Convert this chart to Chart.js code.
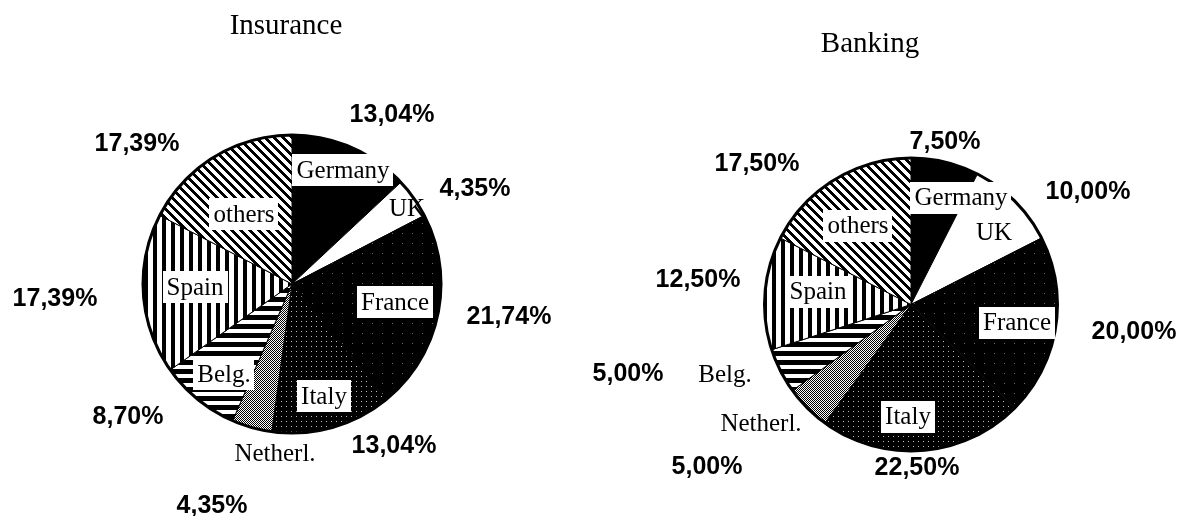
<!DOCTYPE html>
<html>
<head>
<meta charset="utf-8">
<script src="https://cdn.jsdelivr.net/npm/chart.js@4.4.1/dist/chart.umd.min.js"></script>
<style>
  html, body { margin: 0; padding: 0; background: #fff; }
  #wrap { position: relative; width: 1184px; height: 516px; overflow: hidden; background: #fff; }
  .pane { position: absolute; top: 0; width: 592px; height: 516px; }
</style>
</head>
<body>
<div id="wrap">
  <div class="pane" style="left:0"><canvas id="insurance" width="592" height="516"></canvas></div>
  <div class="pane" style="left:592px"><canvas id="banking" width="592" height="516"></canvas></div>
</div>
<script>
// Country shares (%) by sector, clockwise from 12 o'clock
const countries = ['Germany', 'UK', 'France', 'Italy', 'Netherl.', 'Belg.', 'Spain', 'others'];
const insuranceShares = [13.04, 4.35, 21.74, 13.04, 4.35, 8.70, 17.39, 17.39];
const bankingShares = [7.50, 10.00, 20.00, 22.50, 5.00, 5.00, 12.50, 17.50];
const sectorTitles = ['Insurance', 'Banking'];

// Label placement, in px relative to the pie centre: [dx, dy, boxed]
const insuranceLayout = {
  title: [-6, -258],
  names: [[51, -114, true], [115, -76, false], [103, 18, true], [32, 112, true],
          [-17, 169, false], [-68, 90, true], [-97, 3, true], [-48, -70, true]],
  values: [[100, -169], [183, -95], [217, 33], [102, 162],
           [-80, 222], [-164, 133], [-237, 15], [-155, -140]]
};
const bankingLayout = {
  title: [-41, -260],
  names: [[50, -107, true], [83, -72, false], [106, 18, true], [-3, 112, true],
          [-150, 119, false], [-186, 70, false], [-93, -13, true], [-53, -79, true]],
  values: [[34, -162], [177, -112], [223, 28], [6, 164],
           [-204, 163], [-283, 70], [-213, -24], [-154, -140]]
};

// Monochrome fill patterns, one per country
function makePattern(ctx, w, h, bg, fg, isInk) {
  const c = document.createElement('canvas');
  c.width = w; c.height = h;
  const g = c.getContext('2d');
  g.fillStyle = bg; g.fillRect(0, 0, w, h);
  g.fillStyle = fg;
  for (let y = 0; y < h; y++) {
    for (let x = 0; x < w; x++) {
      if (isInk(x, y)) g.fillRect(x, y, 1, 1);
    }
  }
  return ctx.createPattern(c, 'repeat');
}

function countryFills(ctx) {
  return [
    '#000',                                                                   // Germany: solid
    '#fff',                                                                   // UK: blank
    makePattern(ctx, 10, 10, '#000', '#6a6a6a', (x, y) => x === 2 && y === 3), // France: near-black
    makePattern(ctx, 5, 5, '#000', '#bdbdbd', (x, y) => x === 1 && y === 1), // Italy: dark dotted
    makePattern(ctx, 2, 2, '#fff', '#000', (x, y) => (x + y) % 2 === 0),     // Netherl.: checker
    makePattern(ctx, 1, 9, '#fff', '#000', (x, y) => y < 5),                  // Belg.: horizontal bars
    makePattern(ctx, 9, 1, '#fff', '#000', (x, y) => x < 4),                  // Spain: vertical bars
    makePattern(ctx, 9, 9, '#fff', '#000', (x, y) => (((x - y) % 9) + 9) % 9 < 4) // others: diagonal
  ];
}

const fmtPct = v => v.toFixed(2).replace('.', ',') + '%';

// Thick circular outline plus the text annotations
const pieAnnotations = {
  id: 'pieAnnotations',
  afterDatasetsDraw(chart) {
    const arc = chart.getDatasetMeta(0).data[0];
    const ctx = chart.ctx;
    ctx.save();
    ctx.beginPath();
    ctx.arc(arc.x, arc.y, arc.outerRadius, 0, Math.PI * 2);
    ctx.lineWidth = 3;
    ctx.strokeStyle = '#000';
    ctx.stroke();
    ctx.restore();
  },
  afterDraw(chart, args, opts) {
    const meta = chart.getDatasetMeta(0);
    const arcs = meta.data;
    const cx = arcs[0].x, cy = arcs[0].y;
    const values = chart.data.datasets[0].data;
    const names = chart.data.labels;
    const lay = opts.layout;
    const ctx = chart.ctx;
    ctx.save();
    ctx.fillStyle = '#000';
    ctx.textAlign = 'center';
    ctx.textBaseline = 'middle';

    // title
    ctx.font = '29px "Liberation Serif", "Times New Roman", serif';
    ctx.fillText(opts.title, cx + lay.title[0], cy + lay.title[1]);

    // country names
    ctx.font = '25px "Liberation Serif", "Times New Roman", serif';
    names.forEach((name, i) => {
      const [dx, dy, boxed] = lay.names[i];
      const x = cx + dx, y = cy + dy;
      if (boxed) {
        const w = ctx.measureText(name).width + 8;
        const h = 32;
        ctx.fillStyle = '#fff';
        ctx.fillRect(Math.round(x - w / 2), Math.round(y - h / 2), Math.round(w), h);
      }
      ctx.fillStyle = '#000';
      ctx.fillText(name, x, y + 1);
    });

    // shares
    ctx.font = 'bold 25px "Liberation Sans", Arial, sans-serif';
    values.forEach((v, i) => {
      const [dx, dy] = lay.values[i];
      ctx.fillText(fmtPct(v), cx + dx, cy + dy);
    });
    ctx.restore();
  }
};

function buildPie(canvasId, shares, title, layout, padding) {
  const canvas = document.getElementById(canvasId);
  const ctx = canvas.getContext('2d');
  return new Chart(ctx, {
    type: 'pie',
    data: {
      labels: countries,
      datasets: [{
        data: shares,
        backgroundColor: countryFills(ctx),
        borderColor: '#000',
        borderWidth: 1
      }]
    },
    options: {
      responsive: false,
      animation: false,
      events: [],
      layout: { padding },
      plugins: {
        legend: { display: false },
        tooltip: { enabled: false },
        pieAnnotations: { title, layout }
      }
    },
    plugins: [pieAnnotations]
  });
}

buildPie('insurance', insuranceShares, sectorTitles[0], insuranceLayout,
  { left: 142.5, right: 150.5, top: 134.5, bottom: 82.5 });
buildPie('banking', bankingShares, sectorTitles[1], bankingLayout,
  { left: 172, right: 126, top: 157.5, bottom: 64.5 });
</script>
</body>
</html>
